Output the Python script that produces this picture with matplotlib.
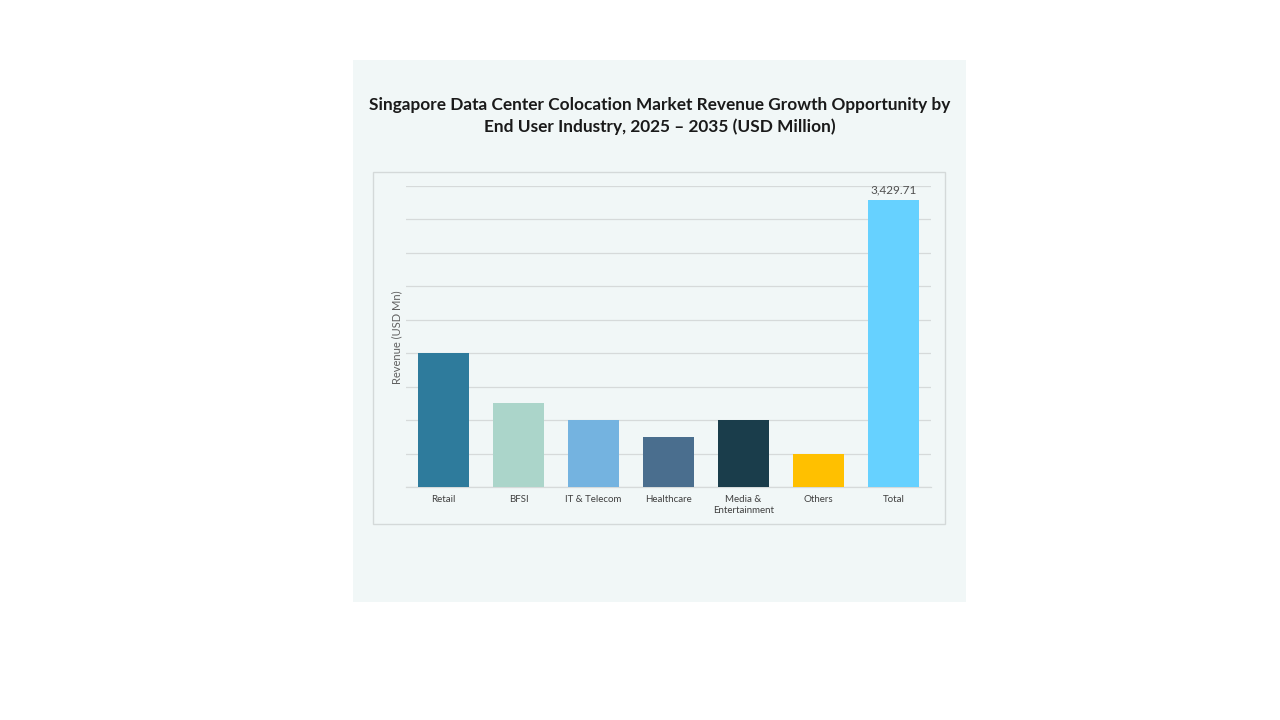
import matplotlib
matplotlib.use('Agg')
import matplotlib.pyplot as plt
from matplotlib.patches import Rectangle

# data
categories = ['Retail', 'BFSI', 'IT & Telecom', 'Healthcare', 'Media &\nEntertainment', 'Others', 'Total']
revenue = [1600, 1000, 800, 600, 800, 400, 3429.71]
bar_colors = ['#2E7B9C', '#ABD5CA', '#74B3E0', '#4A6E8E', '#1A3D4B', '#FFC000', '#66D1FF']
y_ticks = [0, 400, 800, 1200, 1600, 2000, 2400, 2800, 3200, 3600]

W, H = 1280, 720
plt.rcParams['font.family'] = ['Lato', 'DejaVu Sans']

fig = plt.figure(figsize=(12.8, 7.2), dpi=100, facecolor='white')

def fx(px):
    return px / W

def fy(py):
    return 1 - py / H

# light panel behind everything
fig.patches.append(Rectangle((fx(353), fy(602)), fx(966) - fx(353), fy(60) - fy(602),
                             transform=fig.transFigure, facecolor='#F1F7F7',
                             edgecolor='none', zorder=-2))
# chart area border
fig.patches.append(Rectangle((fx(373), fy(524)), fx(945) - fx(373), fy(172) - fy(524),
                             transform=fig.transFigure, facecolor='none',
                             edgecolor='#D4D9D9', lw=1.0, zorder=-1))

fig.text(fx(660), fy(105), 'Singapore Data Center Colocation Market Revenue Growth Opportunity by',
         ha='center', va='center', fontsize=12.4, fontweight='bold', color='#1a1a1a')
fig.text(fx(660), fy(127), 'End User Industry, 2025 \u2013 2035 (USD Million)',
         ha='center', va='center', fontsize=12.4, fontweight='bold', color='#1a1a1a')

ax = fig.add_axes([fx(406), fy(487), fx(931) - fx(406), fy(186) - fy(487)])
ax.set_facecolor('none')

x = list(range(len(categories)))
bars = ax.bar(x, revenue, width=0.69, color=bar_colors, zorder=3)

ax.set_xlim(-0.5, len(categories) - 0.5)
ax.set_ylim(0, 3600)
ax.set_yticks(y_ticks)
ax.set_yticklabels([])
ax.tick_params(axis='y', length=0)
ax.yaxis.grid(True, color='#D6DADA', lw=0.9, zorder=0)
ax.set_axisbelow(True)

ax.set_xticks(x)
ax.set_xticklabels(categories, fontsize=7, color='#404040', linespacing=1.3)
ax.tick_params(axis='x', length=0, pad=6)

for s in ['top', 'right', 'left']:
    ax.spines[s].set_visible(False)
ax.spines['bottom'].set_color('#D6DADA')
ax.spines['bottom'].set_linewidth(0.9)

# only the total is labelled
ax.text(x[-1], revenue[-1] + 60, f'{revenue[-1]:,.2f}', ha='center', va='bottom',
        fontsize=8.5, color='#505050')

fig.text(fx(397), fy(337), 'Revenue (USD Mn)', rotation=90, ha='center', va='center',
         fontsize=8, color='#606060')

fig.savefig('out.png', dpi=100, facecolor='white')
